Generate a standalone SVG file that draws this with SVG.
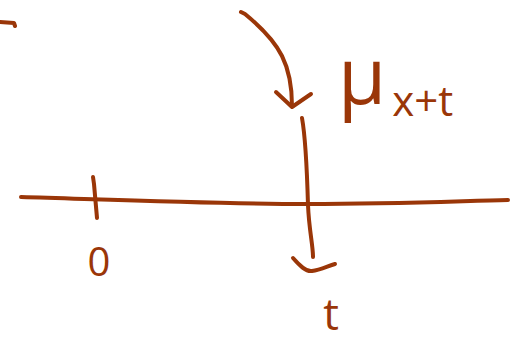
<svg xmlns="http://www.w3.org/2000/svg" width="522" height="346" viewBox="0 0 522 346">
<style>
.ink{fill:none;stroke:#9a3608;stroke-width:4;stroke-linecap:round;stroke-linejoin:round}
.lbl{fill:#9a3608;font-family:"Open Sans","DejaVu Sans",sans-serif;font-weight:400}
</style>
<rect width="522" height="346" fill="#ffffff"/>
<g id="connectors">
<path class="ink" d="M0,22 L14,23 L15,26"/>
<path class="ink" d="M241,12 L245,14 C262,28 275,42 282,56 C290,72 292,90 292,106"/>
<path class="ink" d="M276,92 L292,107 L311,94"/>
</g>
<g id="axis">
<path class="ink" d="M21,197 C120,200 220,204 307,204 C400,204 460,201 508,200"/>
</g>
<g id="tick0">
<path class="ink" d="M93,177 L94,184 L97,218"/>
<text class="lbl" x="99" y="276" font-size="40" text-anchor="middle">0</text>
</g>
<g id="tickT">
<path class="ink" d="M302,118 C306,140 307,170 308,205 C309,230 313,245 313,257"/>
<path class="ink" d="M293,258 C300,266 306,272 312,271 C320,270 328,266 335,264"/>
<text class="lbl" x="331" y="330" font-size="44" text-anchor="middle">t</text>
</g>
<g id="label-mu">
<text class="lbl" x="338" y="104" font-size="78">μ<tspan font-size="42" dx="6" dy="12">x+t</tspan></text>
</g>
</svg>
